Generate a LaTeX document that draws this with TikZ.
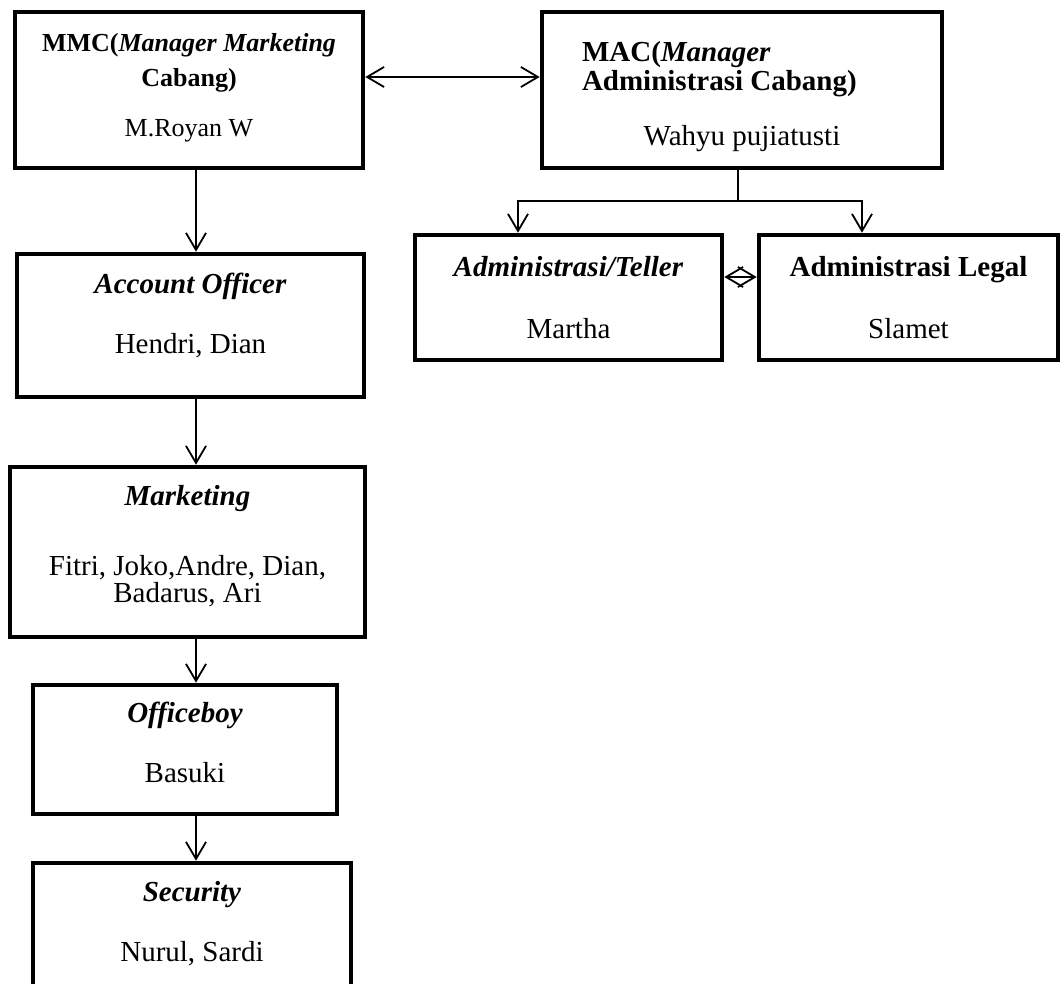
\documentclass[tikz,border=0pt]{standalone}
\usepackage{fontspec}
\setmainfont{Liberation Serif}
\usetikzlibrary{positioning,arrows.meta,calc}
\newcommand{\lowpad}[1]{\rule[-#1]{0pt}{#1}}
\newcommand{\highpad}[1]{\rule{0pt}{#1}}

\begin{document}
\begin{tikzpicture}[
x=0.5pt,y=-0.5pt,
node distance=32.7pt and 16.2pt,
box/.style={rectangle,draw=black,line width=2.3pt,align=center,inner sep=0pt,font=\fontsize{14.5pt}{16pt}\selectfont},
arrow/.style={-{Straight Barb[length=8.5pt,width=10pt]},line width=0.9pt},
twoway/.style={{Straight Barb[length=8.5pt,width=10pt]}-{Straight Barb[length=8.5pt,width=10pt]},line width=0.9pt}
]
\useasboundingbox (0,0) rectangle (1062,984);
\clip (0,0) rectangle (1062,984);
% managers
\node[box,minimum width=174pt,minimum height=78pt,font=\fontsize{13pt}{16pt}\selectfont] (mmc) at (189,90) {\textbf{MMC(\textit{Manager Marketing}}\\[1.5pt]\textbf{Cabang)}\\[9pt]M.Royan W\lowpad{4.6pt}};
\node[box,minimum width=200pt,minimum height=78pt,right=87.2pt of mmc] (mac) {\makebox[160pt][l]{\highpad{17pt}\textbf{MAC(\textit{Manager}}}\\[-1.5pt]\makebox[160pt][l]{\textbf{Administrasi Cabang)}}\\[11.5pt]Wahyu pujiatusti};
% left column
\node[box,minimum width=173.5pt,minimum height=71.5pt,below=40.7pt of mmc,xshift=0.75pt] (acc) {\textbf{\textit{Account Officer}}\\[14pt]Hendri, Dian\lowpad{12.3pt}};
\node[box,minimum width=177.5pt,minimum height=85pt,below=of acc,xshift=-1.5pt] (mkt) {\textbf{\textit{Marketing}}\\[19pt]Fitri, Joko,Andre, Dian,\\[-2.5pt]Badarus, Ari\lowpad{8.3pt}};
\node[box,minimum width=152pt,minimum height=64.5pt,below=21.7pt of mkt,xshift=-1.25pt] (ob) {\textbf{\textit{Officeboy}}\\[14pt]Basuki\lowpad{6.8pt}};
\node[box,minimum width=159pt,minimum height=64.5pt,below=22.2pt of ob,xshift=3.5pt] (sec) {\textbf{\textit{Security}}\\[14pt]Nurul, Sardi\lowpad{5.8pt}};
% admin row
\node[box,minimum width=153.5pt,minimum height=62.5pt,below=31.2pt of mac,xshift=-86.75pt] (teller) {\textbf{\textit{Administrasi/Teller}}\\[15pt]Martha};
\node[box,minimum width=149.5pt,minimum height=62.5pt,right=of teller] (legal) {\textbf{Administrasi Legal}\\[15pt]Slamet};
\coordinate (split) at ([xshift=-2pt,yshift=-15.35pt]mac.south);
\draw[twoway] ([yshift=6.5pt]mmc.east) -- ([yshift=6.5pt]mac.west);
\draw[arrow] ([xshift=3.5pt]mmc.south) -- ([xshift=3.5pt]mmc.south |- acc.north);
\draw[arrow] ([xshift=2.75pt]acc.south) -- ([xshift=2.75pt]acc.south |- mkt.north);
\draw[arrow] ([xshift=4.25pt]mkt.south) -- ([xshift=4.25pt]mkt.south |- ob.north);
\draw[arrow] ([xshift=5.5pt]ob.south) -- ([xshift=5.5pt]ob.south |- sec.north);
\draw[line width=0.9pt] ([xshift=-2pt]mac.south) -- (split);
\draw[arrow] (split) -| ([xshift=-25.25pt]teller.north);
\draw[arrow] (split) -| ([xshift=-23.25pt]legal.north);
\draw[twoway] ([yshift=10.25pt]teller.east) -- ([yshift=10.25pt]legal.west);
\end{tikzpicture}
\end{document}
